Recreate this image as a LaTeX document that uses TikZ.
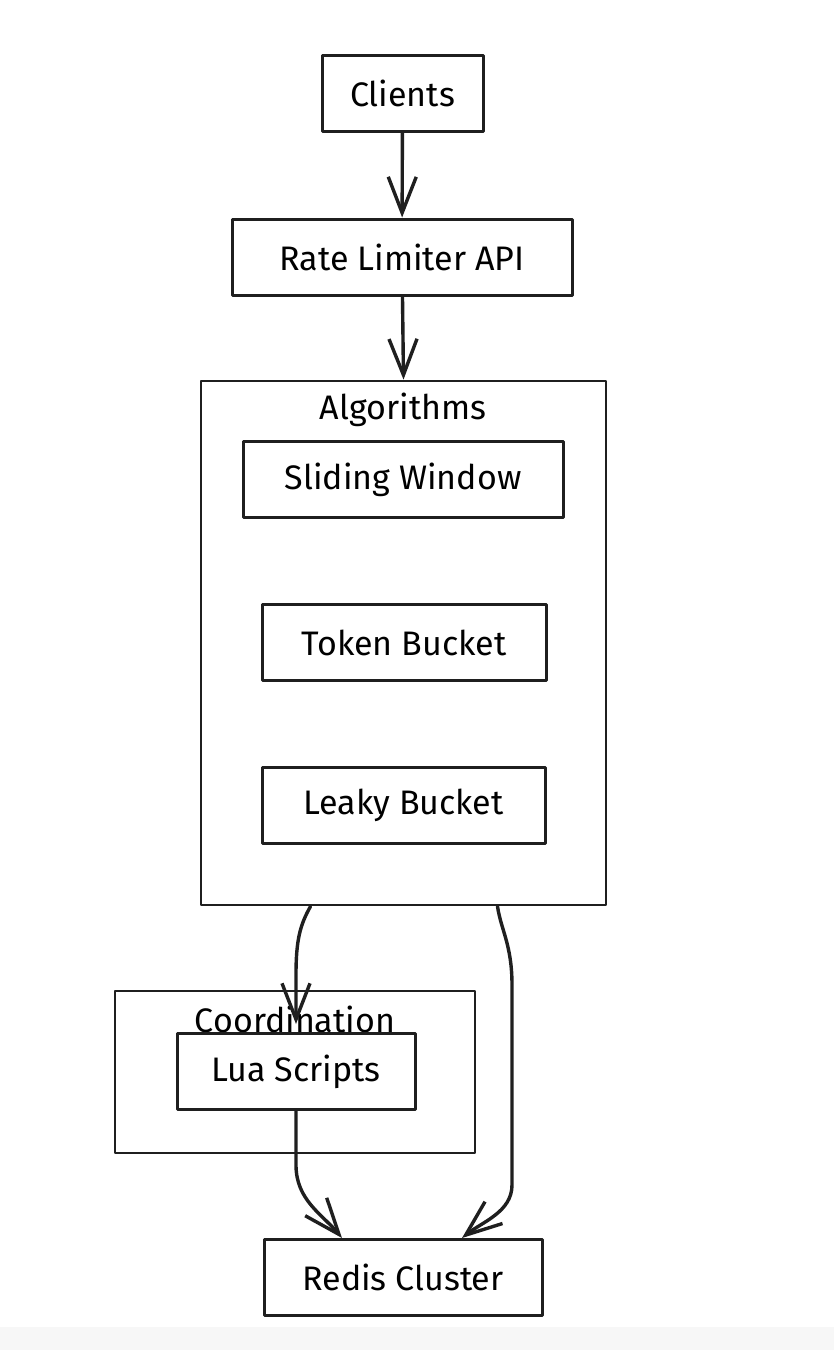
\documentclass[tikz,border=0pt]{standalone}
\usepackage{fontspec}
\setmainfont{Fira Sans}
\usepackage{tikz}
\usetikzlibrary{positioning, arrows.meta}
\tikzstyle{blk}=[%
      rectangle, draw=black!88, line width=3pt, fill=white,
      minimum height=76pt, inner sep=6pt, font=\fontsize{34}{38}\selectfont
]
\tikzstyle{grp}=[%
      rectangle, draw=black!88, line width=2.8pt, fill=none, inner sep=0pt
]
\tikzstyle{ttl}=[%
      inner sep=0pt, font=\fontsize{34}{38}\selectfont
]
\tikzstyle{arr}=[%
      draw=black!88, line width=3.4pt,
      -{Straight Barb[length=36pt, width=28pt, line width=3.4pt]}
]

\begin{document}
\begin{tikzpicture}[x=1pt, y=-1pt, line join=round, line cap=round]
    \useasboundingbox (0,0) rectangle (834,1350);
    \fill[white] (0,0) rectangle (834,1350);
    \fill[black!3] (0,1327) rectangle (834,1350);

    \node[grp, minimum width=405pt, minimum height=524pt] (alg)   at (403.5,643) {};
    \node[ttl]                                            (algt)  at (403,410) {Algorithms};
    \node[grp, minimum width=360pt, minimum height=162pt] (coord) at (295,1072) {};
    \node[ttl]                                            (coordt) at (295,1019) {Coordination};

    \node[blk, minimum width=161pt] (clients) at (402.5,93)  {Clients};
    \node[blk, minimum width=340pt] (api)     at (402,257)   {Rate Limiter API};
    \node[blk, minimum width=320pt] (slide)   at (403,479.5) {Sliding Window};
    \node[blk, minimum width=284pt] (token)   at (404,642.5) {Token Bucket};
    \node[blk, minimum width=283pt] (leaky)   at (403.5,805) {Leaky Bucket};
    \node[blk, minimum width=238pt] (lua)     at (296,1071.5) {Lua Scripts};
    \node[blk, minimum width=278pt] (redis)   at (403,1277.5) {Redis Cluster};

    \draw[arr] (clients) -- (api);
    \draw[arr] (api) -- (alg.north);
    \draw[arr, shorten >=8pt] ([xshift=-93pt]alg.south) .. controls (300,925) and (296,940) .. (296,975) -- (lua.north);
    \draw[arr] ([xshift=94pt]alg.south) .. controls (501,930) and (512,945) .. (512,985) -- (512,1185) .. controls (512,1212) and (482,1222) .. ([xshift=59pt]redis.north);
    \draw[arr] (lua.south) -- (296,1165) .. controls (296,1200) and (322,1214) .. ([xshift=-61pt]redis.north);
\end{tikzpicture}
\end{document}
